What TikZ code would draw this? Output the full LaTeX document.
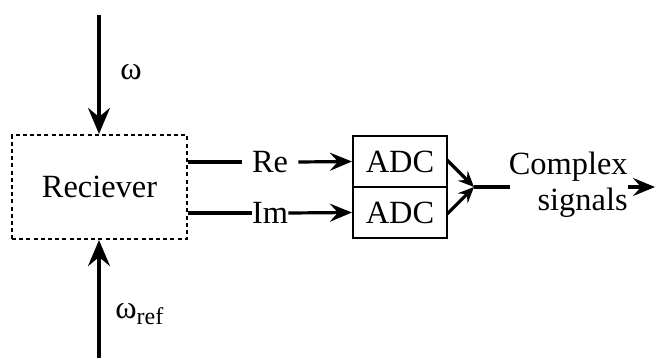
\documentclass[tikz,border=0pt]{standalone}
\usepackage{fontspec}
\setmainfont{Liberation Serif}
\usetikzlibrary{arrows.meta}
\begin{document}
\begin{tikzpicture}[x={(0.5pt,0)},y={(0,-0.5pt)},
  every node/.style={font=\fontsize{16.2}{18}\selectfont},
  bigtip/.style={-{Stealth[length=13pt,width=11pt,inset=4.5pt]}},
  midtip/.style={-{Stealth[length=11pt,width=9pt,inset=4pt]}},
  smalltip/.style={-{Stealth[length=8pt,width=7pt,inset=3pt]}},
  wire/.style={line width=1.6pt},
  adcbox/.style={draw,line width=1.1pt,minimum width=47pt,minimum height=25.5pt,inner sep=0pt},
  lbl/.style={inner sep=0.5pt}]
\useasboundingbox (0,0) rectangle (656,358);
\node[draw,line width=1.1pt,dash pattern=on 2pt off 1.6pt,minimum width=87.5pt,minimum height=52pt,inner sep=0pt] (rx) at (99.5,187) {Reciever};
\coordinate (wtop) at (99,15);
\coordinate (wbot) at (99,358);
\draw[wire,bigtip] (wtop) -- (rx.north -| wtop);
\draw[wire,bigtip] (wbot) -- (rx.south -| wbot);
\node (w) at (131,72) {ω};
\node[anchor=west,inner sep=0pt] (wref) at (115,314) {ω\raisebox{-0.35ex}{\fontsize{12}{13}\selectfont ref}};
\node[adcbox] (adc1) at (400,161.5) {ADC};
\node[adcbox] (adc2) at (400,212.5) {ADC};
\node[lbl,inner sep=5pt] (re) at (270,162) {Re};
\node[lbl,inner sep=0pt] (im) at (270,213) {Im};
\draw[wire] (rx.east |- re) -- (re.west);
\draw[wire] (rx.east |- im) -- (im.west);
\draw[wire,midtip] (re.east) -- (adc1.west);
\draw[wire,midtip] (im.east) -- (adc2.west);
\coordinate (cv) at (474,187);
\coordinate (a1) at (447,160);
\coordinate (a2) at (447,214);
\draw[wire,smalltip] (a1) -- (cv);
\draw[wire,smalltip] (a2) -- (cv);
\node[align=right,anchor=east,inner sep=0pt] (cs) at (628,185) {Complex\\signals};
\coordinate (cl) at (510,187);
\draw[wire] (cv) -- (cl);
\coordinate (out) at (655,187);
\draw[wire,midtip] (cs.east |- out) -- (out);
\end{tikzpicture}
\end{document}
